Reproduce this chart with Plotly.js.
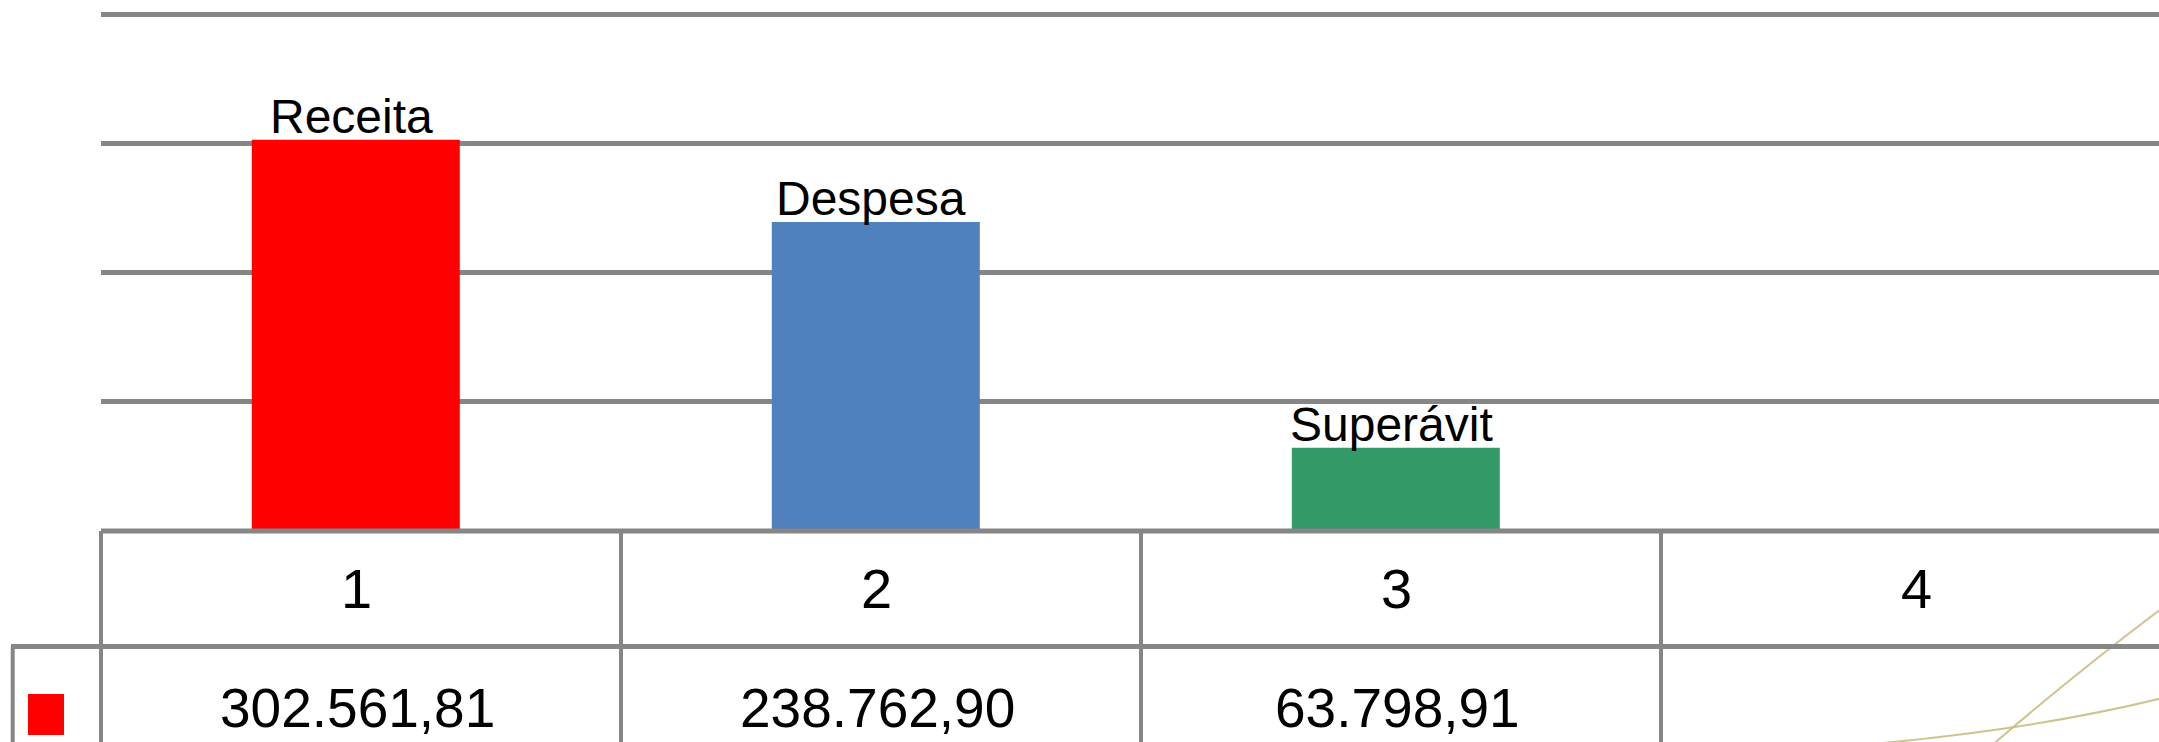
<!DOCTYPE html>
<html>
<head>
<meta charset="utf-8">
<script src="https://cdn.plot.ly/plotly-3.0.1.min.js"></script>
<style>
  html, body { margin: 0; padding: 0; background: #ffffff; }
  #chart { width: 2159px; height: 742px; }
</style>
</head>
<body>
<div id="chart"></div>
<script>
// ---- data ----
var categories = [1, 2, 3, 4];
var tickLabels = ['1', '2', '3', '4'];
var barCategories = [1, 2, 3];
var barNames = ['Receita', 'Despesa', 'Superávit'];
var barValues = [302561.81, 238762.90, 63798.91];
var barColors = ['#FF0000', '#4F81BD', '#339966'];

// ---- layout helpers ----
var W = 2159, H = 742;
var mL = 101, mR = 0, mT = 8, mB = 212;
var plotW = W - mL - mR, plotH = H - mT - mB;
var xRange = [0.5, 0.5 + plotW / 520];
var yRange = [0, 400000 * plotH / 516];
function xp(px) { return (px - mL) / plotW; }
function yp(py) { return (H - mB - py) / plotH; }
function xd(x) { return (x - xRange[0]) / (xRange[1] - xRange[0]); }

function fmtBR(v) {
  var parts = v.toFixed(2).split('.');
  var intPart = parts[0].replace(/\B(?=(\d{3})+(?!\d))/g, '.');
  return intPart + ',' + parts[1];
}

var gridColor = '#868686';
var trace = {
  type: 'bar',
  x: barCategories,
  y: barValues,
  width: 0.4,
  offset: -0.21,
  marker: { color: barColors, line: { width: 0 } },
  hoverinfo: 'skip',
  showlegend: false
};

var annotations = [];
// labels above bars
for (var i = 0; i < barCategories.length; i++) {
  annotations.push({
    x: barCategories[i], y: barValues[i], xref: 'x', yref: 'y',
    text: barNames[i], showarrow: false,
    xanchor: 'center', yanchor: 'bottom', xshift: -10, yshift: -5,
    font: { family: 'Liberation Sans, Arial, sans-serif', size: 48, color: '#000000' }
  });
}
// table header row (categories)
for (var j = 0; j < categories.length; j++) {
  annotations.push({
    x: categories[j], y: yp(588.5), xref: 'x', yref: 'paper',
    text: tickLabels[j], showarrow: false,
    xanchor: 'center', yanchor: 'middle', xshift: -5,
    font: { family: 'Liberation Sans, Arial, sans-serif', size: 56, color: '#000000' }
  });
}
// table value row
for (var k = 0; k < barCategories.length; k++) {
  annotations.push({
    x: barCategories[k], y: yp(708.5), xref: 'x', yref: 'paper',
    text: fmtBR(barValues[k]), showarrow: false,
    xanchor: 'center', yanchor: 'middle', xshift: -4,
    font: { family: 'Liberation Sans, Arial, sans-serif', size: 55, color: '#000000' }
  });
}

var shapes = [];
var lwH = 5, lwV = 4;
// x axis line / table top
shapes.push({ type: 'line', xref: 'paper', yref: 'paper', x0: 0, x1: 1.01, y0: yp(531), y1: yp(531),
  line: { color: gridColor, width: lwH }, layer: 'above' });
// row divider
shapes.push({ type: 'line', xref: 'paper', yref: 'paper', x0: xp(11), x1: 1.01, y0: yp(646.5), y1: yp(646.5),
  line: { color: gridColor, width: lwH } });
// legend cell left border
shapes.push({ type: 'line', xref: 'paper', yref: 'paper', x0: xp(12.7), x1: xp(12.7), y0: yp(646.5), y1: yp(760),
  line: { color: gridColor, width: lwV } });
// column borders
var borders = [0.5, 1.5, 2.5, 3.5];
for (var b = 0; b < borders.length; b++) {
  var bx = xd(borders[b]);
  shapes.push({ type: 'line', xref: 'paper', yref: 'paper', x0: bx, x1: bx, y0: yp(531), y1: yp(760),
    line: { color: gridColor, width: lwV } });
}
// legend key (series colour)
shapes.push({ type: 'rect', xref: 'paper', yref: 'paper', x0: xp(28), x1: xp(64), y0: yp(735), y1: yp(694),
  fillcolor: '#FF0000', line: { width: 0 } });
// decorative background curves
shapes.push({ type: 'path', xref: 'paper', yref: 'paper',
  path: 'M ' + xp(2200) + ',' + yp(580) + ' Q ' + xp(2080) + ',' + yp(668) + ' ' + xp(1975) + ',' + yp(760),
  line: { color: 'rgba(200,184,120,0.85)', width: 2 }, layer: 'below' });
shapes.push({ type: 'path', xref: 'paper', yref: 'paper',
  path: 'M ' + xp(2200) + ',' + yp(688) + ' Q ' + xp(2060) + ',' + yp(728) + ' ' + xp(1850) + ',' + yp(746),
  line: { color: 'rgba(200,184,120,0.85)', width: 2 }, layer: 'below' });

var layout = {
  width: W, height: H,
  margin: { l: mL, r: mR, t: mT, b: mB, pad: 0 },
  paper_bgcolor: '#ffffff',
  plot_bgcolor: '#ffffff',
  showlegend: false,
  xaxis: {
    type: 'linear', range: xRange, showgrid: false, zeroline: false,
    showticklabels: false, ticks: '', showline: false, fixedrange: true
  },
  yaxis: {
    range: yRange, dtick: 100000, tick0: 0, showgrid: true,
    gridcolor: gridColor, gridwidth: lwH, zeroline: false,
    showticklabels: false, ticks: '', showline: false, fixedrange: true
  },
  annotations: annotations,
  shapes: shapes
};

Plotly.newPlot('chart', [trace], layout, { staticPlot: true, displayModeBar: false });
</script>
</body>
</html>
